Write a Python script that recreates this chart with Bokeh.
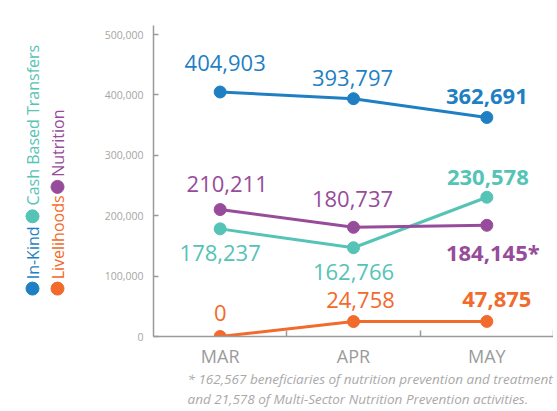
import math
from bokeh.plotting import figure
from bokeh.models import Range1d, FixedTicker, NumeralTickFormatter
from bokeh.layouts import row, column
from bokeh.core.properties import value
from bokeh.embed import file_html
from bokeh.resources import INLINE

# ---------------- data ----------------
months = ["MAR", "APR", "MAY"]
in_kind = [404903, 393797, 362691]
cash_based = [178237, 147000, 230578]
nutrition = [210211, 180737, 184145]
livelihoods = [0, 24758, 25000]

in_kind_labels = ["404,903", "393,797", "362,691"]
cash_labels = ["178,237", "162,766", "230,578"]
nutrition_labels = ["210,211", "180,737", "184,145*"]
livelihoods_labels = ["0", "24,758", "47,875"]

y_ticks = [0, 100000, 200000, 300000, 400000, 500000]
legend_names = ["In-Kind", "Cash Based Transfers", "Livelihoods", "Nutrition"]
footnote_lines = [
    "* 162,567 beneficiaries of nutrition prevention and treatment",
    "and 21,578 of Multi-Sector Nutrition Prevention activities.",
]

# ---------------- style ----------------
FONT = "Open Sans"
BLUE = "#1f7fc3"
TEAL = "#55c3b6"
PURPLE = "#974c9b"
ORANGE = "#f26a2c"
AXIS = "#9a9a9a"
TICKTXT = "#a6a6a6"

# screen offsets for value labels (dx, dy) ; dy positive = down
offsets = {
    "in_kind": [(5, -29), (-1, -21), (0, -21)],
    "cash": [(0, 24), (0, 24), (1, -20)],
    "nutrition": [(7, -26), (-1, -28), (6, 27)],
    "livelihoods": [(0, -24), (7, -22), (10, -22)],
}

xs = [i + 0.5 for i in range(len(months))]

# ---------------- main figure ----------------
p = figure(width=465, height=370, x_range=Range1d(0, len(months)),
           y_range=Range1d(0, 515000), output_backend="svg",
           toolbar_location=None, min_border_left=65, min_border_right=0,
           min_border_top=25, min_border_bottom=34)
p.outline_line_color = None
p.grid.visible = False
p.background_fill_color = "white"
p.border_fill_color = "white"

yax = p.yaxis[0]
yax.ticker = FixedTicker(ticks=y_ticks, minor_ticks=[])
yax.formatter = NumeralTickFormatter(format="0,0")
yax.axis_line_color = AXIS
yax.axis_line_width = 1.5
yax.major_tick_in = 5
yax.major_tick_out = 0
yax.minor_tick_in = 0
yax.minor_tick_out = 0
yax.major_tick_line_color = AXIS
yax.major_tick_line_width = 1.5
yax.minor_tick_line_color = None
yax.major_label_text_font = FONT
yax.major_label_text_font_size = "10.5px"
yax.major_label_text_color = TICKTXT
yax.major_label_standoff = 10

xax = p.xaxis[0]
xax.ticker = FixedTicker(ticks=xs, minor_ticks=[1, 2, 3])
xax.major_label_overrides = {x: m for x, m in zip(xs, months)}
xax.axis_line_color = AXIS
xax.axis_line_width = 1.5
xax.major_tick_line_color = None
xax.major_tick_in = 0
xax.major_tick_out = 0
xax.minor_tick_in = 6
xax.minor_tick_out = 0
xax.minor_tick_line_color = AXIS
xax.minor_tick_line_width = 1.5
xax.major_label_text_font = FONT
xax.major_label_text_font_size = "18px"
xax.major_label_text_color = "#9b9b9b"
xax.major_label_standoff = 7

series = [
    ("livelihoods", livelihoods, livelihoods_labels, ORANGE),
    ("cash", cash_based, cash_labels, TEAL),
    ("nutrition", nutrition, nutrition_labels, PURPLE),
    ("in_kind", in_kind, in_kind_labels, BLUE),
]

for key, vals, labels, col in series:
    p.line(xs, vals, line_color=col, line_width=3)
    p.scatter(xs, vals, size=12, fill_color=col, line_color=col)
    for i in range(len(xs)):
        dx, dy = offsets[key][i]
        p.text(x=[xs[i]], y=[vals[i]], text=[labels[i]],
               text_font=value(FONT), text_font_size="22px",
               text_font_style="bold" if i == len(xs) - 1 else "normal",
               text_color=col, text_align="center", text_baseline="middle",
               x_offset=dx, y_offset=dy)

# ---------------- legend figure (rotated) ----------------
lg = figure(width=88, height=370, x_range=Range1d(0, 88), y_range=Range1d(370, 0),
            output_backend="svg", toolbar_location=None, min_border=0)
lg.axis.visible = False
lg.grid.visible = False
lg.outline_line_color = None

legend_items = [
    # name, color, x, dot_y, text_start_y
    (legend_names[0], BLUE, 32, 313, 302),
    (legend_names[1], TEAL, 32, 227, 214),
    (legend_names[2], ORANGE, 57, 313, 302),
    (legend_names[3], PURPLE, 57, 192, 180),
]
for name, col, lx, dy_, ty in legend_items:
    lg.scatter([lx], [dy_], size=13, fill_color=col, line_color=col)
    lg.text(x=[lx], y=[ty], text=[name], angle=math.pi / 2,
            text_font=value(FONT), text_font_size="16px", text_color=col,
            text_align="left", text_baseline="middle")

# ---------------- footnote figure ----------------
ft = figure(width=557, height=41, x_range=Range1d(0, 557), y_range=Range1d(41, 0),
            output_backend="svg", toolbar_location=None, min_border=0)
ft.axis.visible = False
ft.grid.visible = False
ft.outline_line_color = None
ft.text(x=[187, 187], y=[8, 28], text=footnote_lines,
        text_font=value(FONT), text_font_size="13.5px", text_font_style="italic",
        text_color="#a9a9a9", text_align="left", text_baseline="middle")

layout = column(row(lg, p), ft)
open("out.html", "w").write(file_html(layout, INLINE))
